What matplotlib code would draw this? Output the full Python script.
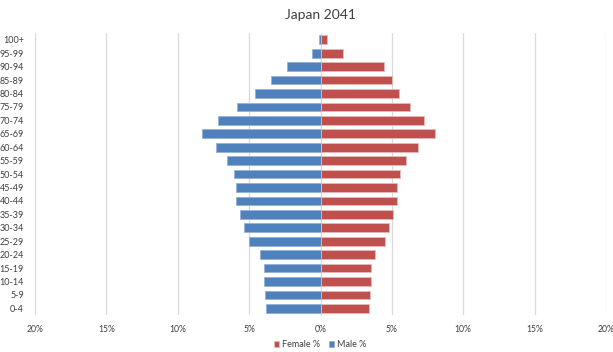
import matplotlib.pyplot as plt
from matplotlib.ticker import FuncFormatter

ages = ["0-4", "5-9", "10-14", "15-19", "20-24", "25-29", "30-34", "35-39",
        "40-44", "45-49", "50-54", "55-59", "60-64", "65-69", "70-74",
        "75-79", "80-84", "85-89", "90-94", "95-99", "100+"]
male = [3.83, 3.92, 3.99, 3.99, 4.25, 5.02, 5.37, 5.62, 5.95, 5.95, 6.09,
        6.56, 7.30, 8.33, 7.19, 5.83, 4.60, 3.50, 2.36, 0.61, 0.14]
female = [3.42, 3.49, 3.53, 3.53, 3.79, 4.51, 4.82, 5.10, 5.37, 5.33, 5.54,
          6.00, 6.84, 8.03, 7.26, 6.24, 5.49, 5.03, 4.47, 1.60, 0.42]
ticks = [-20, -15, -10, -5, 0, 5, 10, 15, 20]

plt.rcParams['font.family'] = ['Lato', 'DejaVu Sans']

fig = plt.figure(figsize=(6.13, 3.52), dpi=100)
ax = fig.add_axes([0.0571, 0.105, 0.9315, 0.801])

y = range(len(ages))
ax.barh(y, [-m for m in male], height=0.65, color="#4F81BD",
        edgecolor="#95B3D7", linewidth=0.6, label="Male %", zorder=3)
ax.barh(y, female, height=0.65, color="#C0504D",
        edgecolor="#E6B9B8", linewidth=0.6, label="Female %", zorder=3)

ax.set_xlim(-20, 20)
ax.set_ylim(-0.5, len(ages) - 0.5)
ax.set_xticks(ticks)
ax.xaxis.set_major_formatter(FuncFormatter(lambda v, p: f"{abs(v):.0f}%"))
ax.set_yticks(list(y))
ax.set_yticklabels(ages)
ax.tick_params(axis="both", length=0, labelsize=6.5, colors="#404040")
ax.tick_params(axis="x", pad=7, labelsize=6.2)
ax.tick_params(axis="y", pad=8)
ax.grid(axis="x", color="#D9D9D9", linewidth=0.9, zorder=0)
for s in ax.spines.values():
    s.set_visible(False)

ax.set_title("Japan 2041", fontsize=10, color="#404040", pad=10)

handles, labels = ax.get_legend_handles_labels()
fig.legend(handles[::-1], labels[::-1], loc="center", bbox_to_anchor=(0.522, 0.02),
           ncol=2, frameon=False, fontsize=6.5, handlelength=0.6,
           handleheight=0.6, handletextpad=0.3, columnspacing=1.0,
           labelcolor="#404040")

fig.savefig("out.png", dpi=100)
